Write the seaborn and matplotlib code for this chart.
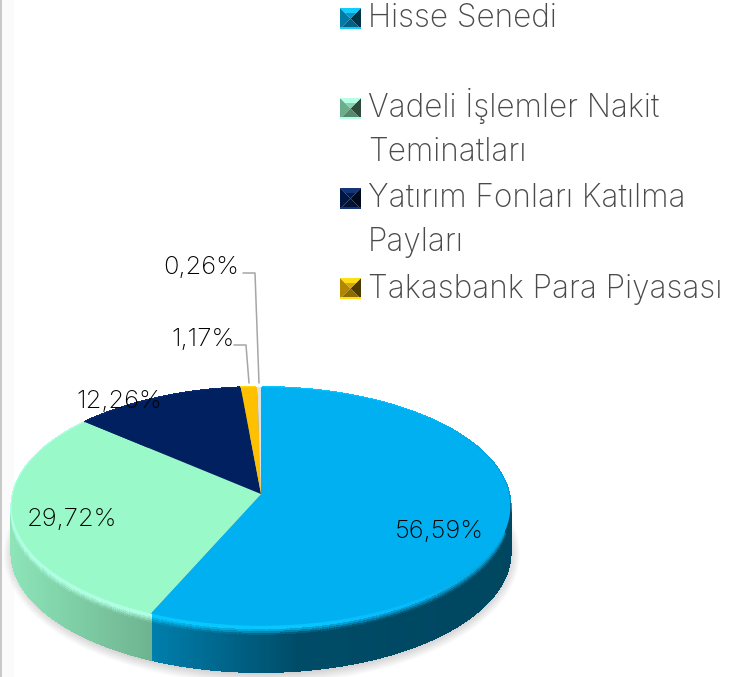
import numpy as np
import matplotlib
matplotlib.use('Agg')
import matplotlib.pyplot as plt
import seaborn as sns
from matplotlib.collections import PolyCollection
from matplotlib.patches import Ellipse, Polygon, Rectangle
from matplotlib.path import Path
from matplotlib.transforms import Transform

# Data
values = [56.59, 29.72, 12.26, 1.17, 0.26]
value_labels = ['56,59%', '29,72%', '12,26%', '1,17%', '0,26%']
slice_colors = ['#00B0F0', '#99F9C8', '#002060', '#FFC000', '#DDE3E3']
legend_names = ['Hisse Senedi', 'Vadeli İşlemler Nakit\nTeminatları',
                'Yatırım Fonları Katılma\nPayları', 'Takasbank Para Piyasası']

# Pie geometry, in pixels of the output picture
CX, CY, R = 261, 494, 248
SQUASH, TILT, DEPTH = 118, 0.1046, 46

sns.set_style('white')
plt.rcParams['font.family'] = ['Inter', 'DejaVu Sans']
palette = sns.color_palette(slice_colors)


class TiltTransform(Transform):
    # projects the flat pie onto a tilted plane
    input_dims = output_dims = 2
    is_affine = False

    def transform_non_affine(self, xy):
        xy = np.asarray(xy, dtype=float)
        u = (xy[:, 0] - CX) / R
        v = (xy[:, 1] - CY) / R
        d = 1 + TILT * v
        return np.column_stack([CX + R * u / d, CY - SQUASH * v / d])

    def transform_path_non_affine(self, path):
        poly = path.to_polygons(closed_only=False)[0]
        return Path(self.transform_non_affine(poly))


fig = plt.figure(figsize=(7.4, 6.77), dpi=100)
ax = fig.add_axes([0, 0, 1, 1])
tilt = TiltTransform()

wedges, _ = ax.pie(values, colors=palette, startangle=90, counterclock=False,
                   radius=R, center=(CX, CY))
ax.set_aspect('auto')
ax.set_xlim(0, 740)
ax.set_ylim(677, 0)
ax.axis('off')

for w in wedges:
    w.set_transform(tilt + ax.transData)
    w.set_linewidth(0)
    w.set_zorder(4)

# Left page edge
ax.axvspan(2, 14, color='#fbfbfb', lw=0, zorder=0)
ax.axvspan(0, 2, color='#c9c9c9', lw=0, zorder=0)

# Soft shadow under the pie
for i in range(14):
    ax.add_patch(Ellipse((CX + 1, 505 + DEPTH + 3), 2 * (R - 3 + i), 2 * (117 + i),
                         color='black', alpha=0.017, lw=0, zorder=1))


def rim_point(theta):
    t = np.radians(theta)
    pts = np.column_stack([CX + R * np.cos(t), CY + R * np.sin(t)])
    return tilt.transform_non_affine(pts)


# Side wall of the pie, shaded along x and down from the rim
polys, colors = [], []
rows = np.array([0, 0.05, 0.1, 0.14, 0.18, 0.22, 0.26, 1.0])
for w, base in zip(wedges, palette):
    base = np.array(base)
    steps = max(int(w.theta2 - w.theta1) * 2, 2)
    edge = rim_point(np.linspace(w.theta1, w.theta2, steps + 1))
    for p0, p1 in zip(edge[:-1], edge[1:]):
        mid = (p0[0] + p1[0]) / 2
        shade = np.interp(mid, [11, 153, 300, 510], [0.92, 0.72, 0.43, 0.40])
        glow = np.interp(mid, [11, 300, 420, 510], [1.1, 1.08, 1.0, 0.85])
        for t0, t1 in zip(rows[:-1], rows[1:]):
            mix = np.clip(((t0 + t1) / 2 - 0.08) / 0.14, 0, 1)
            col = np.clip(base * glow + [0.03, 0.03, 0.03], 0, 1) * (1 - mix) + base * shade * mix
            polys.append([(p0[0], p0[1] + t0 * DEPTH), (p1[0], p1[1] + t0 * DEPTH),
                          (p1[0], p1[1] + t1 * DEPTH), (p0[0], p0[1] + t1 * DEPTH)])
            colors.append(col)
ax.add_collection(PolyCollection(polys, facecolors=colors, edgecolors=colors,
                                 linewidths=1.0, antialiaseds=False, zorder=3))

# Value labels
label_pos = [(439, 531), (72, 519), (119, 401), (203, 339), (201, 267)]
for txt, (x, y) in zip(value_labels, label_pos):
    ax.text(x, y, txt, fontsize=18.4, color='#000000', ha='center', va='center',
            fontweight='light', zorder=6)

# Leader lines of the small slices
ax.plot([234, 246, 249], [345, 345, 383], color='#a6a6a6', lw=1.1, zorder=5)
ax.plot([243, 255, 259], [273, 273, 383], color='#a6a6a6', lw=1.1, zorder=5)


# Legend with the bevelled swatches
def swatch(x, y, base, size=21):
    base = np.array(base)
    c = (x + size / 2, y + size / 2)
    tl, tr, br, bl = (x, y), (x + size, y), (x + size, y + size), (x, y + size)
    faces = [((tl, bl, c), base * 0.7), ((tr, br, c), base * 0.3),
             ((bl, br, c), base * 0.55), ((tl, tr, c), base * 0.85)]
    for pts, col in faces:
        ax.add_patch(Polygon(pts, closed=True, facecolor=np.clip(col, 0, 1), lw=0, zorder=5))
    ax.add_patch(Polygon((tl, tr, (x + size - 5, y + 5), (x + 5, y + 5)), closed=True, lw=0, zorder=5,
                         facecolor=np.clip(base * 1.05 + 0.08, 0, 1)))
    ax.add_patch(Rectangle((x, y + size - 2), size, 2, lw=0, zorder=5,
                           facecolor=np.clip(base * 1.05 + 0.08, 0, 1)))


legend_y = [8, 98, 188, 278]
legend_base = [27, 117, 207, 298]
legend_colors = [palette[0], palette[1], palette[2], palette[3]]
for name, y, base_y, col in zip(legend_names, legend_y, legend_base, legend_colors):
    swatch(340, y, col)
    for j, line in enumerate(name.split('\n')):
        ax.text(368, base_y + 44 * j, line, fontsize=22.7, color='#4a4a4a', ha='left',
                va='baseline', fontweight='light', zorder=6)

fig.savefig('out.png', dpi=100)
